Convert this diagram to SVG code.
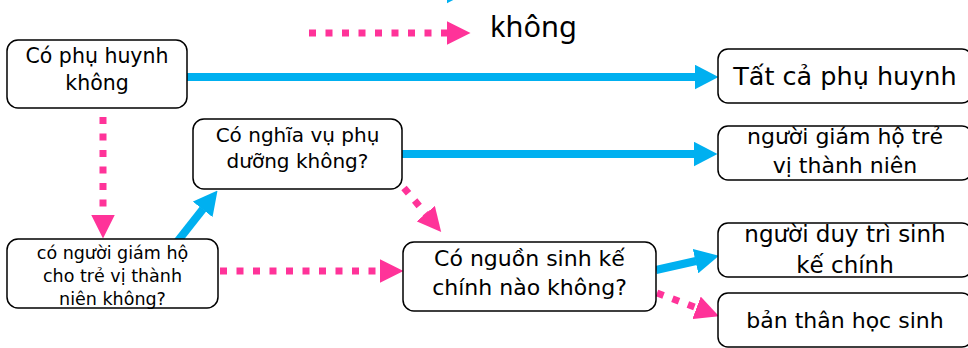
<svg xmlns="http://www.w3.org/2000/svg" width="968" height="348" viewBox="0 0 968 348">
<style>
.box{fill:#fff;stroke:#000;stroke-width:1.5}
.t{font-family:"DejaVu Sans",Verdana,sans-serif;fill:#000;text-anchor:middle}
.yes{fill:none;stroke:#00B0F0;stroke-width:8}
.no{fill:none;stroke:#FF3399;stroke-width:7;stroke-dasharray:7 9.5}
</style>
<defs>
<marker id="ab" markerUnits="userSpaceOnUse" viewBox="0 0 24 25" markerWidth="24" markerHeight="25" refX="0.5" refY="12.5" orient="auto"><path d="M0,0 L24,12.5 L0,25 z" fill="#00B0F0"/></marker>
<marker id="ap" markerUnits="userSpaceOnUse" viewBox="0 0 24 24" markerWidth="24" markerHeight="24" refX="0.5" refY="12" orient="auto"><path d="M0,0 L24,12 L0,24 z" fill="#FF3399"/></marker>
</defs>
<g id="legend">
<path class="yes" d="M309,-9 H447" marker-end="url(#ab)"/>
<path class="no" d="M309,33 H447" marker-end="url(#ap)"/>
<text x="490" y="37" font-family="'Noto Sans','DejaVu Sans',sans-serif" font-size="29" fill="#000">không</text>
</g>
<g id="connectors">
<path class="yes" d="M187,77 H695" marker-end="url(#ab)"/>
<path class="yes" d="M402,154 H694" marker-end="url(#ab)"/>
<path class="yes" d="M177,242 L203,209" marker-end="url(#ab)"/>
<path class="yes" d="M656,270 L696,261" marker-end="url(#ab)"/>
<path class="no" d="M103,117 V215" marker-end="url(#ap)"/>
<path class="no" d="M220,271 H380" marker-end="url(#ap)"/>
<path class="no" d="M404,188 L426,214" marker-end="url(#ap)"/>
<path class="no" d="M657,293 L697,308" marker-end="url(#ap)"/>
</g>
<g id="n1">
<rect class="box" x="7" y="40" width="180" height="68" rx="11"/>
<text class="t" font-size="20.5" x="97" y="63">Có phụ huynh</text>
<text class="t" font-size="20.5" x="97" y="90">không</text>
</g>
<g id="n2">
<rect class="box" x="193" y="119" width="209" height="70" rx="11"/>
<text class="t" font-size="20" x="297.5" y="142">Có nghĩa vụ phụ</text>
<text class="t" font-size="20" x="297.5" y="168">dưỡng không?</text>
</g>
<g id="n3">
<rect class="box" x="7" y="239" width="211" height="69" rx="11"/>
<text class="t" font-size="17.5" x="112.5" y="259">có người giám hộ</text>
<text class="t" font-size="17.5" x="112.5" y="282">cho trẻ vị thành</text>
<text class="t" font-size="17.5" x="112.5" y="305">niên không?</text>
</g>
<g id="n4">
<rect class="box" x="403" y="242" width="253" height="69" rx="11"/>
<text class="t" font-size="22" x="529.5" y="266">Có nguồn sinh kế</text>
<text class="t" font-size="22" x="529.5" y="295">chính nào không?</text>
</g>
<g id="r1">
<rect class="box" x="718" y="49" width="254" height="54" rx="10"/>
<text class="t" font-size="25.5" x="845" y="85">Tất cả phụ huynh</text>
</g>
<g id="r2">
<rect class="box" x="718" y="126" width="254" height="54" rx="10"/>
<text class="t" font-size="22" x="845" y="144">người giám hộ trẻ</text>
<text class="t" font-size="22" x="845" y="173">vị thành niên</text>
</g>
<g id="r3">
<rect class="box" x="718" y="223" width="254" height="54" rx="10"/>
<text class="t" font-size="23" x="845" y="242">người duy trì sinh</text>
<text class="t" font-size="23" x="845" y="273">kế chính</text>
</g>
<g id="r4">
<rect class="box" x="718" y="293" width="254" height="54" rx="10"/>
<text class="t" font-size="22" x="845" y="328">bản thân học sinh</text>
</g>
</svg>
